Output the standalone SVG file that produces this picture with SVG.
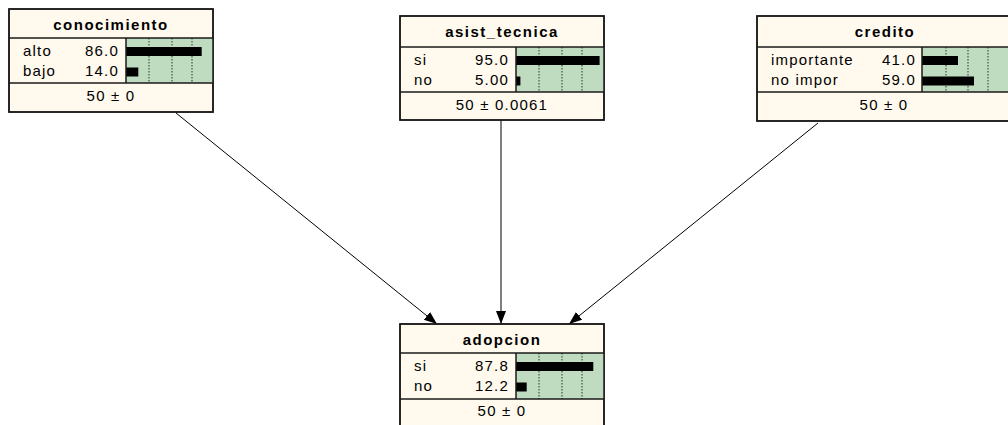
<svg xmlns="http://www.w3.org/2000/svg" width="1008" height="425" viewBox="0 0 1008 425">
  <style>
    .box { fill: #FFF9EE; stroke: #1a1a1a; stroke-width: 1.5; }
    .sep { stroke: #1a1a1a; stroke-width: 1.5; fill: none; }
    .belief { fill: #C0DCC0; }
    .tick { stroke: #333; stroke-width: 1; stroke-dasharray: 1.5 1.5; }
    .bar { fill: #000; }
    .title { font-family: "Liberation Sans", Arial, sans-serif; font-size: 15px; font-weight: bold; letter-spacing: 1.5px; text-anchor: middle; fill: #000; }
    .label { font-family: "Liberation Sans", Arial, sans-serif; font-size: 15px; letter-spacing: 1.2px; fill: #000; }
    .value { font-family: "Liberation Sans", Arial, sans-serif; font-size: 15px; letter-spacing: 1.2px; text-anchor: end; fill: #000; }
    .stat { font-family: "Liberation Sans", Arial, sans-serif; font-size: 15px; letter-spacing: 1.2px; text-anchor: middle; fill: #000; }
    .link { stroke: #000; stroke-width: 1; fill: none; marker-end: url(#head); }
  </style>
  <defs>
    <marker id="head" markerUnits="userSpaceOnUse" markerWidth="14" markerHeight="12" refX="13" refY="5" orient="auto">
      <path d="M0,0 L13,5 L0,10 Z" fill="#000"/>
    </marker>
  </defs>

  <rect width="1008" height="425" fill="#fff"/>

  <!-- links -->
  <g id="links">
    <line class="link" x1="176" y1="113" x2="437" y2="324"/>
    <line class="link" x1="501" y1="120" x2="501" y2="324"/>
    <line class="link" x1="818" y1="123" x2="569" y2="324"/>
  </g>

  <!-- conocimiento -->
  <g id="conocimiento">
    <rect class="box" x="9" y="9" width="204" height="103"/>
    <rect class="belief" x="126" y="38" width="87" height="45"/>
    <line class="tick" x1="149" y1="38" x2="149" y2="83"/>
    <line class="tick" x1="172" y1="38" x2="172" y2="83"/>
    <line class="tick" x1="192" y1="38" x2="192" y2="83"/>
    <rect class="bar" x="126" y="47" width="75.7" height="9"/>
    <rect class="bar" x="126" y="67.5" width="12.3" height="9"/>
    <rect class="box" x="9" y="9" width="204" height="103" fill="none" style="fill:none"/>
    <line class="sep" x1="9" y1="38" x2="213" y2="38"/>
    <line class="sep" x1="9" y1="83" x2="213" y2="83"/>
    <line class="sep" x1="126" y1="38" x2="126" y2="83"/>
    <text class="title" x="111" y="30">conocimiento</text>
    <text class="label" x="23" y="56">alto</text>
    <text class="value" x="119" y="56">86.0</text>
    <text class="label" x="23" y="76">bajo</text>
    <text class="value" x="119" y="76">14.0</text>
    <text class="stat" x="111" y="101">50 ± 0</text>
  </g>

  <!-- asist_tecnica -->
  <g id="asist_tecnica">
    <rect class="box" x="400" y="16" width="204" height="104"/>
    <rect class="belief" x="516" y="47" width="88" height="45"/>
    <line class="tick" x1="539" y1="47" x2="539" y2="92"/>
    <line class="tick" x1="562" y1="47" x2="562" y2="92"/>
    <line class="tick" x1="582" y1="47" x2="582" y2="92"/>
    <rect class="bar" x="516" y="56" width="83.6" height="9"/>
    <rect class="bar" x="516" y="76.5" width="4.4" height="9"/>
    <rect class="box" x="400" y="16" width="204" height="104" style="fill:none"/>
    <line class="sep" x1="400" y1="47" x2="604" y2="47"/>
    <line class="sep" x1="400" y1="92" x2="604" y2="92"/>
    <line class="sep" x1="516" y1="47" x2="516" y2="92"/>
    <text class="title" x="502" y="37">asist_tecnica</text>
    <text class="label" x="414" y="65">si</text>
    <text class="value" x="509" y="65">95.0</text>
    <text class="label" x="414" y="85">no</text>
    <text class="value" x="509" y="85">5.00</text>
    <text class="stat" x="502" y="110">50 ± 0.0061</text>
  </g>

  <!-- credito -->
  <g id="credito">
    <rect class="box" x="757" y="16" width="256" height="105"/>
    <rect class="belief" x="922" y="47" width="91" height="45"/>
    <line class="tick" x1="946" y1="47" x2="946" y2="92"/>
    <line class="tick" x1="968" y1="47" x2="968" y2="92"/>
    <line class="tick" x1="988" y1="47" x2="988" y2="92"/>
    <rect class="bar" x="922" y="56" width="36" height="9"/>
    <rect class="bar" x="922" y="76.5" width="52" height="9"/>
    <rect class="box" x="757" y="16" width="256" height="105" style="fill:none"/>
    <line class="sep" x1="757" y1="47" x2="1013" y2="47"/>
    <line class="sep" x1="757" y1="92" x2="1013" y2="92"/>
    <line class="sep" x1="922" y1="47" x2="922" y2="92"/>
    <text class="title" x="885" y="37">credito</text>
    <text class="label" x="771" y="65">importante</text>
    <text class="value" x="916" y="65">41.0</text>
    <text class="label" x="771" y="85">no impor</text>
    <text class="value" x="916" y="85">59.0</text>
    <text class="stat" x="884" y="110">50 ± 0</text>
  </g>

  <!-- adopcion -->
  <g id="adopcion">
    <rect class="box" x="400" y="324" width="204" height="106"/>
    <rect class="belief" x="516" y="353" width="88" height="46"/>
    <line class="tick" x1="539" y1="353" x2="539" y2="399"/>
    <line class="tick" x1="562" y1="353" x2="562" y2="399"/>
    <line class="tick" x1="582" y1="353" x2="582" y2="399"/>
    <rect class="bar" x="516" y="362" width="77.3" height="9"/>
    <rect class="bar" x="516" y="382.5" width="10.7" height="9"/>
    <rect class="box" x="400" y="324" width="204" height="106" style="fill:none"/>
    <line class="sep" x1="400" y1="353" x2="604" y2="353"/>
    <line class="sep" x1="400" y1="399" x2="604" y2="399"/>
    <line class="sep" x1="516" y1="353" x2="516" y2="399"/>
    <text class="title" x="502" y="345">adopcion</text>
    <text class="label" x="414" y="371">si</text>
    <text class="value" x="509" y="371">87.8</text>
    <text class="label" x="414" y="391">no</text>
    <text class="value" x="509" y="391">12.2</text>
    <text class="stat" x="502" y="416">50 ± 0</text>
  </g>
</svg>
